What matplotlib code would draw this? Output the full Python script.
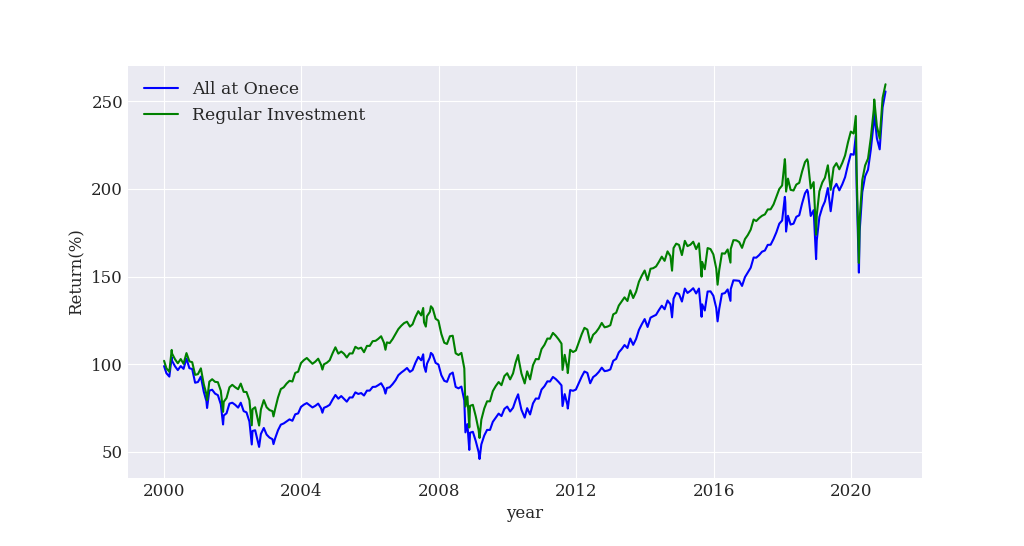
import matplotlib
matplotlib.use('Agg')
import matplotlib.pyplot as plt
import pandas as pd

# month-end values plus a few intramonth highs/lows
dates = [
    '2000-01-03', '2000-01-28', '2000-02-28', '2000-03-24', '2000-03-28', '2000-04-28', '2000-05-28',
    '2000-06-28', '2000-07-28', '2000-08-28', '2000-09-28', '2000-10-28', '2000-11-28', '2000-12-28',
    '2001-01-28', '2001-02-28', '2001-03-28', '2001-04-04', '2001-04-28', '2001-05-28', '2001-06-28',
    '2001-07-28', '2001-08-28', '2001-09-21', '2001-09-28', '2001-10-28', '2001-11-28', '2001-12-28',
    '2002-01-28', '2002-02-28', '2002-03-28', '2002-04-28', '2002-05-28', '2002-06-28', '2002-07-23',
    '2002-07-31', '2002-08-28', '2002-09-28', '2002-10-09', '2002-10-28', '2002-11-28', '2002-12-28',
    '2003-01-28', '2003-02-28', '2003-03-11', '2003-03-28', '2003-04-28', '2003-05-28', '2003-06-28',
    '2003-07-28', '2003-08-28', '2003-09-28', '2003-10-28', '2003-11-28', '2003-12-28',
    '2004-01-28', '2004-02-28', '2004-03-28', '2004-04-28', '2004-05-28', '2004-06-28', '2004-07-28',
    '2004-08-12', '2004-08-28', '2004-09-28', '2004-10-28', '2004-11-28', '2004-12-28',
    '2005-01-28', '2005-02-28', '2005-03-28', '2005-04-28', '2005-05-28', '2005-06-28', '2005-07-28',
    '2005-08-28', '2005-09-28', '2005-10-28', '2005-11-28', '2005-12-28',
    '2006-01-28', '2006-02-28', '2006-03-28', '2006-04-28', '2006-05-28', '2006-06-13', '2006-06-28',
    '2006-07-28', '2006-08-28', '2006-09-28', '2006-10-28', '2006-11-28', '2006-12-28',
    '2007-01-28', '2007-02-28', '2007-03-28', '2007-04-28', '2007-05-28', '2007-06-28', '2007-07-19',
    '2007-07-28', '2007-08-16', '2007-08-28', '2007-09-28', '2007-10-09', '2007-10-28', '2007-11-28',
    '2007-12-28',
    '2008-01-28', '2008-02-28', '2008-03-28', '2008-04-28', '2008-05-28', '2008-06-28', '2008-07-28',
    '2008-08-28', '2008-09-28', '2008-10-10', '2008-10-31', '2008-11-20', '2008-11-28', '2008-12-28',
    '2009-01-28', '2009-02-27', '2009-03-09', '2009-03-28', '2009-04-28', '2009-05-28', '2009-06-28',
    '2009-07-28', '2009-08-28', '2009-09-28', '2009-10-28', '2009-11-28', '2009-12-28',
    '2010-01-28', '2010-02-28', '2010-03-28', '2010-04-23', '2010-04-30', '2010-05-28', '2010-06-28',
    '2010-07-02', '2010-07-28', '2010-08-28', '2010-09-28', '2010-10-28', '2010-11-28', '2010-12-28',
    '2011-01-28', '2011-02-28', '2011-03-28', '2011-04-28', '2011-05-28', '2011-06-28', '2011-07-28',
    '2011-08-08', '2011-08-31', '2011-09-28', '2011-10-03', '2011-10-28', '2011-11-28', '2011-12-28',
    '2012-01-28', '2012-02-28', '2012-03-28', '2012-04-28', '2012-05-28', '2012-06-28', '2012-07-28',
    '2012-08-28', '2012-09-28', '2012-10-28', '2012-11-28', '2012-12-28',
    '2013-01-28', '2013-02-28', '2013-03-28', '2013-04-28', '2013-05-28', '2013-06-28', '2013-07-28',
    '2013-08-28', '2013-09-28', '2013-10-28', '2013-11-28', '2013-12-28',
    '2014-01-28', '2014-02-28', '2014-03-28', '2014-04-28', '2014-05-28', '2014-06-28', '2014-07-28',
    '2014-08-28', '2014-09-28', '2014-10-15', '2014-10-31', '2014-11-28', '2014-12-28',
    '2015-01-28', '2015-02-28', '2015-03-28', '2015-04-28', '2015-05-28', '2015-06-28', '2015-07-28',
    '2015-08-25', '2015-08-31', '2015-09-28', '2015-10-28', '2015-11-28', '2015-12-28',
    '2016-01-28', '2016-02-11', '2016-02-28', '2016-03-28', '2016-04-28', '2016-05-28', '2016-06-27',
    '2016-06-30', '2016-07-28', '2016-08-28', '2016-09-28', '2016-10-28', '2016-11-28', '2016-12-28',
    '2017-01-28', '2017-02-28', '2017-03-28', '2017-04-28', '2017-05-28', '2017-06-28', '2017-07-28',
    '2017-08-28', '2017-09-28', '2017-10-28', '2017-11-28', '2017-12-28',
    '2018-01-26', '2018-01-31', '2018-02-08', '2018-02-28', '2018-03-28', '2018-04-28', '2018-05-28',
    '2018-06-28', '2018-07-28', '2018-08-28', '2018-09-20', '2018-09-28', '2018-10-28', '2018-11-28',
    '2018-12-24', '2018-12-31',
    '2019-01-28', '2019-02-28', '2019-03-28', '2019-04-28', '2019-05-28', '2019-06-28', '2019-07-28',
    '2019-08-28', '2019-09-28', '2019-10-28', '2019-11-28', '2019-12-28',
    '2020-01-28', '2020-02-19', '2020-02-28', '2020-03-23', '2020-03-31', '2020-04-28', '2020-05-28',
    '2020-06-28', '2020-07-28', '2020-08-28', '2020-09-02', '2020-09-30', '2020-10-30', '2020-11-30',
    '2020-12-31',
]

all_at_once = [
    99.0, 94.9, 93.0, 104.0, 102.0, 98.9, 96.7, 99.0, 97.4, 103.3, 97.8, 97.3, 89.5, 89.9,
    93.0, 84.4, 79.0, 75.1, 85.0, 85.5, 83.3, 82.4, 77.2, 65.7, 70.8, 72.1, 77.6, 78.1,
    76.9, 75.3, 78.1, 73.3, 72.6, 67.4, 54.3, 62.0, 62.4, 55.5, 52.9, 60.3, 63.7, 59.9,
    58.2, 57.3, 54.5, 57.7, 62.4, 65.6, 66.3, 67.4, 68.6, 67.8, 71.5, 72.0, 75.7,
    77.0, 77.9, 76.7, 75.4, 76.3, 77.6, 75.0, 72.4, 75.2, 75.9, 76.9, 79.9, 82.5,
    80.4, 81.9, 80.4, 78.7, 81.1, 81.1, 84.0, 83.1, 83.6, 82.2, 85.0, 85.0,
    87.1, 87.2, 88.1, 89.2, 86.4, 83.3, 86.5, 86.9, 88.7, 90.9, 93.8, 95.3, 96.5,
    97.9, 95.7, 96.7, 100.9, 104.2, 102.3, 105.7, 99.1, 95.7, 100.3, 103.9, 106.5, 105.5, 100.8, 99.9,
    93.8, 90.6, 90.0, 94.3, 95.3, 87.1, 86.3, 87.3, 79.4, 61.2, 65.9, 51.2, 61.0, 61.5,
    56.2, 50.0, 46.0, 54.3, 59.4, 62.6, 62.6, 67.2, 69.5, 71.9, 70.5, 74.6, 75.9,
    73.1, 75.2, 79.6, 82.9, 80.8, 74.1, 70.2, 69.6, 75.0, 71.4, 77.7, 80.5, 80.4, 85.6,
    87.5, 90.3, 90.2, 92.8, 91.6, 89.9, 88.0, 76.2, 83.0, 77.0, 74.8, 85.3, 84.9, 85.6,
    89.3, 93.0, 95.9, 95.1, 89.2, 92.7, 93.9, 95.7, 98.1, 96.1, 96.4, 97.1,
    102.0, 103.1, 106.8, 108.7, 111.0, 109.3, 114.7, 111.1, 114.5, 119.6, 122.9, 125.8,
    121.3, 126.6, 127.4, 128.2, 130.9, 133.4, 131.4, 136.4, 134.2, 126.8, 137.4, 140.7, 140.1,
    135.8, 143.2, 140.7, 141.9, 143.4, 140.4, 143.2, 127.1, 134.2, 130.7, 141.5, 141.6, 139.1,
    132.1, 124.5, 131.5, 140.2, 140.6, 142.7, 136.2, 142.9, 147.9, 147.8, 147.6, 144.7, 149.7, 152.4,
    155.1, 160.9, 160.8, 162.3, 164.2, 164.9, 168.1, 168.2, 171.5, 175.3, 180.2, 182.0,
    195.5, 192.2, 175.7, 184.7, 179.7, 180.2, 184.1, 185.0, 191.7, 197.5, 199.5, 198.3, 184.6, 187.9,
    160.0, 170.6,
    184.0, 189.5, 192.9, 200.5, 187.3, 200.2, 202.9, 199.2, 202.6, 206.7, 213.8, 219.9,
    219.5, 230.5, 201.1, 152.3, 175.9, 198.2, 207.2, 211.0, 222.6, 238.2, 243.7, 228.9, 222.6, 246.5,
    255.6,
]

regular = [
    102.0, 97.7, 95.8, 108.2, 106.1, 102.9, 100.6, 103.0, 100.3, 106.4, 101.7, 101.2, 94.0, 94.4,
    97.7, 88.6, 83.0, 79.6, 90.1, 91.5, 90.0, 89.8, 84.9, 72.9, 78.6, 80.8, 86.9, 88.3,
    86.9, 85.8, 89.0, 84.3, 84.2, 79.5, 65.2, 74.4, 75.5, 67.7, 65.1, 74.2, 79.6, 75.5,
    73.9, 73.3, 70.3, 74.4, 81.1, 85.9, 86.9, 89.0, 90.6, 90.2, 95.1, 95.8, 100.7,
    102.4, 103.6, 102.0, 100.3, 101.5, 103.2, 99.8, 97.0, 100.0, 100.9, 102.3, 106.3, 109.7,
    106.1, 107.3, 106.1, 103.9, 106.2, 106.2, 110.0, 108.9, 109.5, 106.9, 110.5, 110.5,
    113.2, 113.4, 114.5, 116.0, 112.3, 108.3, 112.5, 112.1, 114.4, 117.3, 120.1, 122.0, 123.5,
    124.3, 121.5, 122.8, 127.1, 130.3, 127.9, 132.1, 123.9, 121.5, 127.4, 129.9, 133.1, 131.9, 126.0, 124.9,
    117.3, 112.3, 111.6, 116.0, 116.3, 106.3, 105.3, 106.5, 97.7, 75.9, 81.7, 64.0, 76.3, 76.9,
    70.3, 62.5, 58.0, 68.4, 74.8, 78.9, 78.9, 84.7, 87.6, 89.9, 88.1, 93.3, 94.9,
    91.4, 94.8, 101.1, 105.3, 102.6, 94.8, 89.9, 89.1, 96.0, 91.4, 99.5, 103.0, 102.9, 108.7,
    111.1, 114.7, 114.6, 117.9, 116.3, 114.2, 111.8, 96.8, 105.4, 97.8, 95.0, 108.3, 107.0, 107.9,
    112.5, 117.2, 120.8, 119.8, 112.4, 116.8, 118.3, 120.6, 123.6, 121.1, 121.5, 122.3,
    128.5, 129.4, 133.5, 135.9, 138.2, 136.1, 142.2, 137.8, 141.4, 147.1, 150.6, 153.5,
    148.0, 154.5, 154.8, 155.8, 158.4, 161.4, 159.0, 164.4, 161.7, 153.4, 166.3, 168.8, 168.1,
    162.3, 170.4, 167.4, 168.2, 169.9, 165.7, 169.0, 150.0, 158.4, 154.2, 166.3, 165.7, 162.7,
    154.6, 145.4, 153.6, 163.3, 163.1, 165.5, 158.0, 165.8, 170.8, 170.7, 169.7, 166.4, 171.4, 173.7,
    176.8, 182.6, 181.7, 183.4, 184.7, 185.5, 188.3, 188.4, 191.2, 195.5, 200.0, 202.0,
    217.0, 213.3, 198.5, 205.9, 199.5, 199.1, 202.5, 203.5, 209.9, 215.3, 216.9, 215.6, 200.3, 203.9,
    173.9, 185.1,
    198.7, 203.7, 206.4, 213.5, 199.5, 212.2, 214.7, 211.2, 214.8, 219.1, 226.6, 232.7,
    231.6, 241.6, 210.1, 157.8, 182.2, 205.1, 213.4, 217.3, 229.3, 245.3, 251.0, 235.8, 228.8, 251.9,
    259.7,
]

plt.style.use('seaborn-v0_8-darkgrid')
plt.rcParams['font.family'] = 'DejaVu Serif'

df = pd.DataFrame({'All at Onece': all_at_once, 'Regular Investment': regular},
                  index=pd.to_datetime(dates))

fig, ax = plt.subplots(figsize=(10.24, 5.46), dpi=100)
fig.subplots_adjust(left=0.125, right=0.9, top=0.88, bottom=0.125)

ax.plot(df.index, df['All at Onece'], color='blue', lw=1.5, label='All at Onece')
ax.plot(df.index, df['Regular Investment'], color='green', lw=1.5, label='Regular Investment')

ax.set_xlabel('year', fontsize=12, color='.15')
ax.set_ylabel('Return(%)', fontsize=12, color='.15')
ax.tick_params(labelsize=12, colors='.15')
ax.legend(loc='upper left', fontsize=12.4)

plt.savefig('out.png')
